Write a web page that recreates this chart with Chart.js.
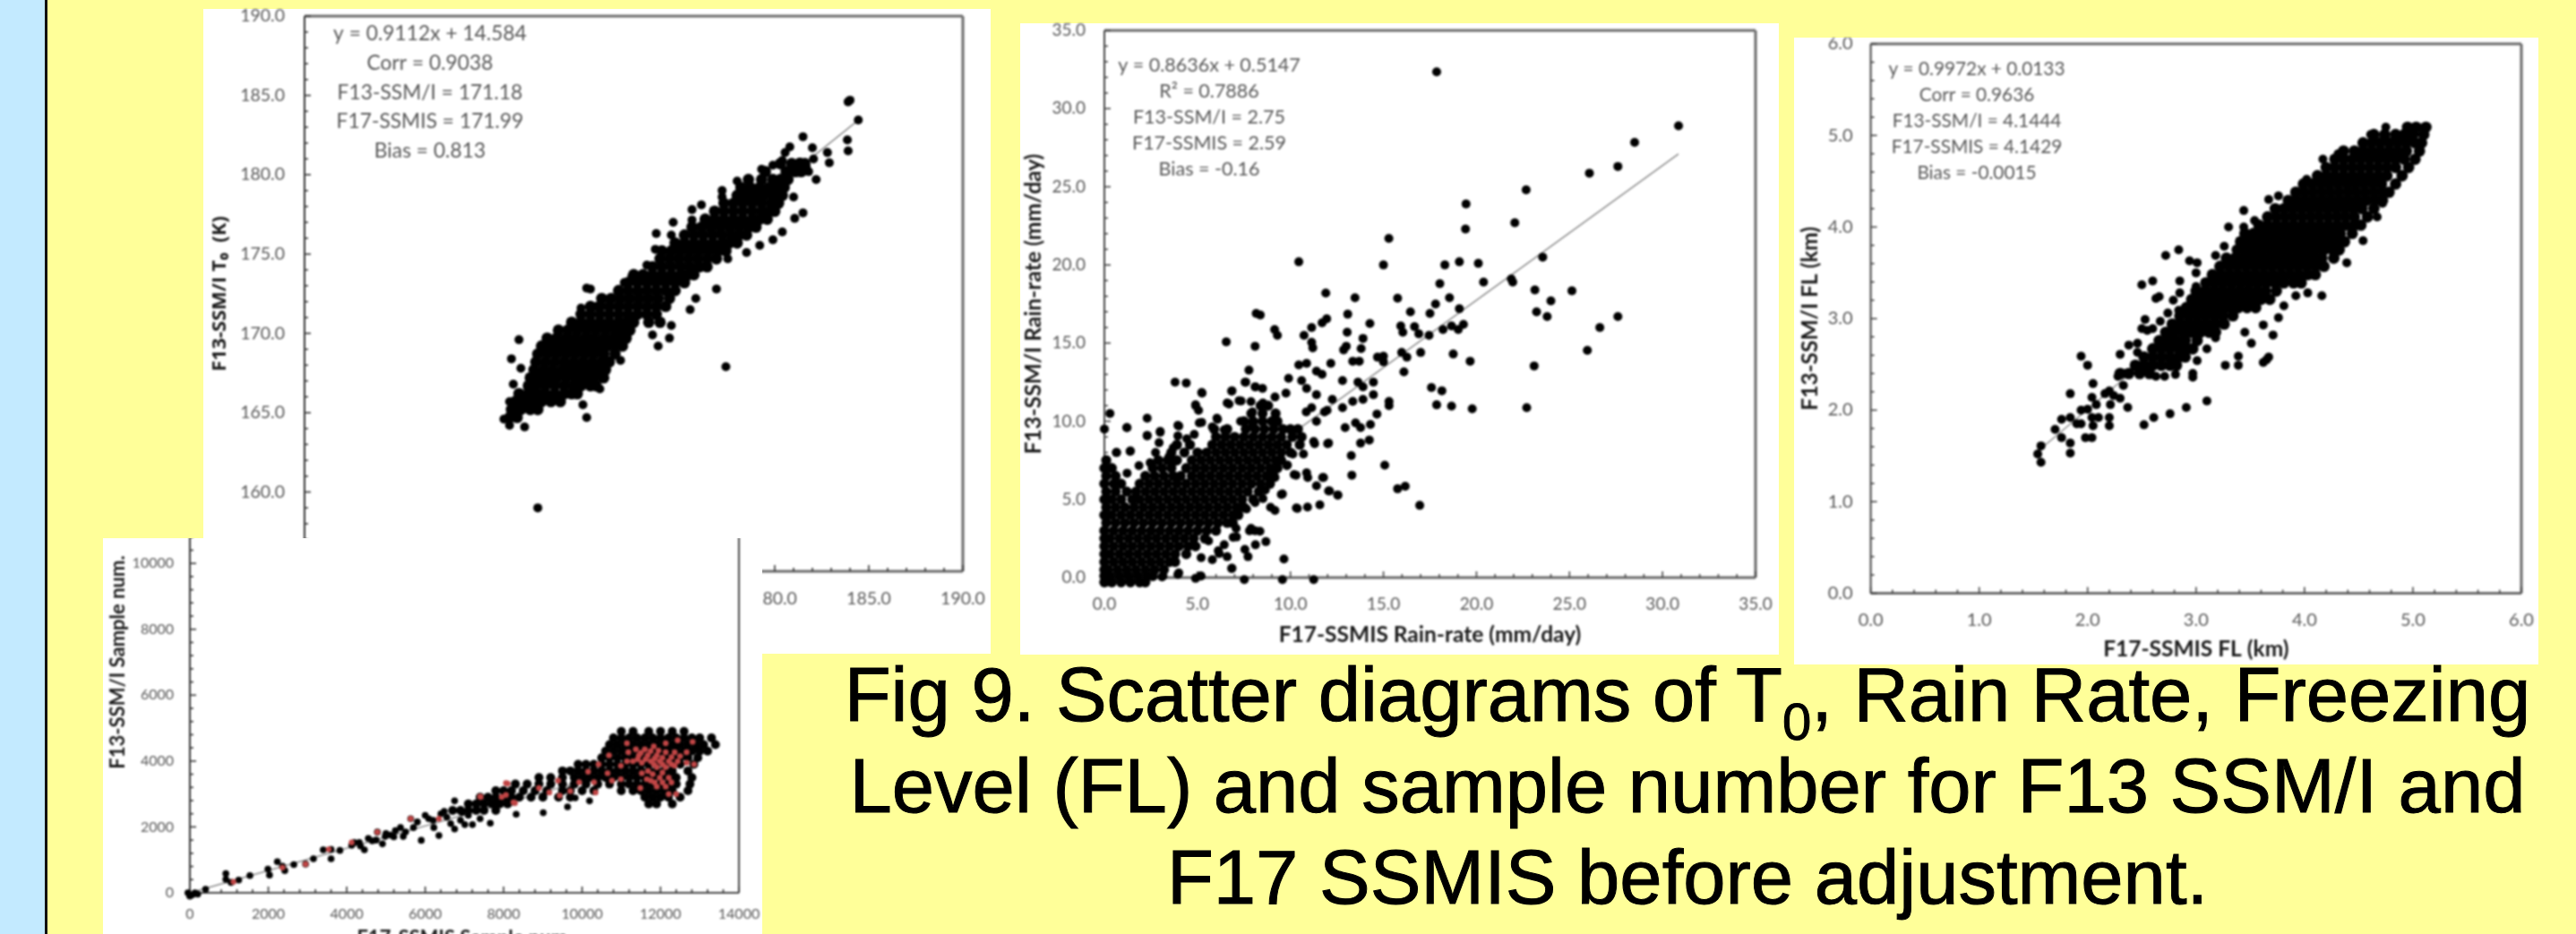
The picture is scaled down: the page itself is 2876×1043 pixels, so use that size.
<!DOCTYPE html>
<html><head><meta charset="utf-8">
<script src="https://cdn.jsdelivr.net/npm/chart.js@4"></script>
<style>
html,body{margin:0;padding:0;width:2876px;height:1043px;overflow:hidden;background:#FFFF99}
#blue{position:absolute;left:0;top:0;width:50px;height:1043px;background:#C3EAFF}
#rule{position:absolute;left:50px;top:0;width:3px;height:1043px;background:#111}
.panel{position:absolute;background:#fff}
canvas{position:absolute;filter:blur(1.1px)}
.cap{position:absolute;left:1884px;transform:translateX(-50%);white-space:nowrap;font:85px "Liberation Sans",Arial,sans-serif;color:#000;line-height:102px;height:102px;z-index:9;-webkit-text-stroke:1px #000;filter:blur(.5px)}
.cap sub{font-size:58px;line-height:0;vertical-align:-21px}
</style></head><body>
<div id="blue"></div><div id="rule"></div>
<div class="panel" style="left:227px;top:10px;width:879px;height:720px"></div>
<canvas id="c1" width="879" height="720" style="left:227px;top:10px;z-index:1"></canvas>
<div class="panel" style="left:1139px;top:26px;width:847px;height:705px;z-index:1"></div>
<canvas id="c2" width="847" height="705" style="left:1139px;top:26px;z-index:1"></canvas>
<div class="panel" style="left:2003px;top:42px;width:831px;height:700px;z-index:1"></div>
<canvas id="c3" width="831" height="700" style="left:2003px;top:42px;z-index:1"></canvas>
<div class="panel" style="left:115px;top:601px;width:736px;height:442px;z-index:2"></div>
<canvas id="c4" width="736" height="610" style="left:115px;top:460px;z-index:2;clip-path:inset(141px 0 0 0)"></canvas>
<div class="cap" style="top:725px">Fig 9. Scatter diagrams of T<sub>0</sub>, Rain Rate, Freezing</div>
<div class="cap" style="top:827px">Level (FL) and sample number for F13 SSM/I and</div>
<div class="cap" style="top:929px">F17 SSMIS before adjustment.</div>
<script>
// ---------- T0 panel ----------
const t0Notes=["y = 0.9112x + 14.584","Corr = 0.9038","F13-SSM/I = 171.18","F17-SSMIS = 171.99","Bias = 0.813"];
const t0Trend=[[165.7,165.6],[184.4,183.4]];
// each row: y, then the x values read along that row of the solid cloud
const t0Rows=[
[164.7,165.9,166.3],
[165.2,166.0,166.5,167.0,167.4],
[165.7,166.2,166.7,167.1,167.6,168.1,168.6],
[166.2,166.4,166.9,167.4,167.8,168.3,168.8,169.2,169.5],
[166.7,166.9,167.3,167.8,168.3,168.8,169.3,169.7,170.2,170.5],
[167.2,167.0,167.5,168.0,168.4,168.9,169.4,169.9,170.4,170.9],
[167.7,167.2,167.7,168.2,168.7,169.1,169.6,170.1,170.6,171.0],
[168.2,167.3,167.8,168.3,168.8,169.3,169.8,170.3,170.8,171.2],
[168.7,167.4,167.9,168.4,168.9,169.4,169.9,170.4,170.9,171.5],
[169.2,167.6,168.1,168.6,169.1,169.6,170.1,170.6,171.1,171.5,171.9],
[169.7,167.9,168.4,168.9,169.4,169.9,170.4,170.9,171.4,171.8,172.1],
[170.2,168.5,169.0,169.5,170.0,170.5,171.0,171.5,171.9,172.3],
[170.7,169.2,169.7,170.2,170.7,171.2,171.7,172.1,172.5,173.3,173.9],
[171.2,169.7,170.2,170.7,171.2,171.7,172.2,172.7,173.2,173.7],
[171.7,170.2,170.7,171.2,171.7,172.2,172.7,173.2,173.7,174.2],
[172.2,170.8,171.3,171.8,172.3,172.8,173.3,173.8,174.4],
[172.7,171.7,172.2,172.7,173.2,173.7,174.2,174.7],
[173.2,172.2,172.7,173.2,173.7,174.2,174.7,175.2],
[173.7,172.5,173.0,173.5,174.0,174.5,175.0,175.4,175.7],
[174.2,173.5,174.0,174.5,175.0,175.5,176.0,176.4],
[174.7,173.9,174.4,174.9,175.4,175.9,176.4,176.9],
[175.2,174.0,174.5,175.0,175.5,176.0,176.5,177.0,177.4],
[175.7,174.7,175.2,175.7,176.2,176.7,177.2,177.6,178.0],
[176.2,175.2,175.7,176.2,176.7,177.2,177.7,178.1,178.5],
[176.7,175.6,176.1,176.6,177.1,177.6,178.1,178.6,179.0],
[177.2,176.3,176.8,177.3,177.8,178.3,178.8,179.2,179.6],
[177.7,176.8,177.3,177.8,178.3,178.8,179.3,179.7,180.0],
[178.2,177.3,177.8,178.3,178.8,179.3,179.8,180.2],
[178.7,178.0,178.5,179.0,179.4,179.9,180.4],
[179.2,178.2,178.7,179.2,179.7,180.1,180.5],
[179.7,178.6,179.3,179.9,180.3,180.7],
[180.2,179.5,180.6,181.1,181.4],
[180.7,180.3,180.9,181.3,181.6]];
const t0Loose=[[184.44,183.45],[183.86,182.2],[183.9,181.5],[182.8,181.4],[182.9,180.76],[182.06,181.0],[182,181.7],[181.5,182.4],[182.2,179.7],[180.8,181.76],[180.55,181.4],[180.4,180.9],[181.5,177.6],[181.06,177.25],[180.4,176.4],[179.9,175.9],[179.2,175.55],[178.5,175.1],[177.5,174.7],[176.9,172.8],[175.8,172.2],[175.5,171.5],[174.4,169.7],[173.8,169.2],[173.5,169.9],[174.5,170.5],[177.4,167.9],[170.7,166.5],[169.8,165.5],[170,164.7],[171.8,168.3],[166.4,169.6],[166,168.4],[166.5,167.8],[166.1,166.8],[165.9,165.7],[165.6,164.6],[165.9,164.2],[166.7,164.1],[170.2,172.8],[170.0,172.85],[170.5,171.7],[169.7,171.6],[173.7,176.3],[174.6,177],[174.5,176.2],[175.6,177.8],[176.1,178.1],[175.6,177.15],[173.65,175.3],[173.2,174.3],[172.4,173.6],[172,173.2],[177.2,179],[177.2,178.6],[178,179.6],[178.65,179.7],[179.3,180.35],[179.9,180.6],[181,178.6],[181.35,180.8],[181.67,180.5],[181.8,180.2],[183.9,184.6],[184,184.7],[167.4,159.0]];

// ---------- Rain-rate panel ----------
const rainNotes=["y = 0.8636x + 0.5147","R² = 0.7886","F13-SSM/I = 2.75","F17-SSMIS = 2.59","Bias = -0.16"];
const rainTrend=[[0,0.51],[30.86,27.1]];
const rainRows=[
[-0.3,0,0.4,0.9,1.4,1.9,2.2],
[0.1,0,0.3,0.8,1.3,1.8,2.3,2.6],
[0.5,0,0.2,0.7,1.2,1.7,2.2,2.7,3.2],
[1,0,0.5,1,1.5,2,2.5,3,3.5,3.8],
[1.5,0,0.3,0.8,1.3,1.8,2.3,2.8,3.3,3.8,4.4],
[2,0,0.5,1,1.5,2,2.5,3,3.5,4,4.5,4.9],
[2.5,0,0.3,0.8,1.3,1.8,2.3,2.8,3.3,3.8,4.3,4.8,5.4],
[3,0,0.5,1,1.5,2,2.5,3,3.5,4,4.5,5,5.5,6],
[3.5,0.1,0.6,1.1,1.6,2.1,2.6,3.1,3.6,4.1,4.6,5.1,5.6,6.1,6.6,6.9],
[4,0,0.4,0.9,1.4,1.9,2.4,2.9,3.4,3.9,4.4,4.9,5.4,5.9,6.4,6.9,7.2],
[4.5,0.1,0.6,1.1,1.6,2.1,2.6,3.1,3.6,4.1,4.6,5.1,5.6,6.1,6.6,7.1,7.5],
[5,0,0.4,0.9,1.5,1.9,2.4,2.9,3.4,3.9,4.4,4.9,5.4,5.9,6.4,6.9,7.4,8],
[5.5,0.1,0.6,1.2,1.7,2.2,2.7,3.2,3.7,4.2,4.7,5.2,5.7,6.2,6.7,7.2,7.7,8.3],
[6,0,0.5,0.9,1.9,2.4,2.9,3.4,3.9,4.4,4.9,5.4,5.9,6.4,6.9,7.4,7.9,8.4,8.9],
[6.5,0.1,0.6,2.2,2.7,3.2,3.7,4.1,4.7,5.2,5.7,6.2,6.7,7.2,7.7,8.2,8.7,9.1],
[7,0,0.4,2.6,3.1,3.6,4.4,4.9,5.4,5.9,6.4,6.9,7.4,7.9,8.4,8.9,9.3],
[7.5,0.1,2.9,3.4,3.9,4.7,5.2,5.7,6.2,6.7,7.2,7.7,8.2,8.7,9.2,9.5],
[8,3.6,4.3,5.0,5.5,6.0,6.5,7.0,7.5,8.0,8.5,9.0,9.5,10],
[8.5,3.9,4.6,5.8,6.3,6.8,7.3,7.8,8.3,8.8,9.3,9.8,10.5],
[9,6.0,6.5,7.0,7.5,8.0,8.5,9.0,9.5,10.1,10.6],
[9.5,5.9,6.6,7.6,8.1,8.6,9.1,9.6,10.0,10.4],
[10,7.5,8.0,8.5,9.0,9.3],
[10.5,7.9,8.5,9.2],
[11,8.4,8.8]];
const rainLoose=[[17.86,32.35],[30.86,28.9],[28.5,27.84],[27.6,26.3],[26.07,25.87],[22.67,24.8],[19.44,23.9],[19.41,22.3],[22.06,22.7],[15.29,21.7],[10.45,20.2],[15,20],[18.3,20],[19.08,20.2],[20.1,20.1],[23.56,20.5],[20.38,18.9],[18.03,18.8],[21.87,19.1],[21.95,18.9],[23.14,18.4],[25.13,18.35],[11.9,18.2],[13.47,17.9],[15.76,17.87],[18.55,17.9],[24,17.7],[17.8,17.5],[19.08,17.2],[16.45,17],[17.5,16.9],[23.23,17],[23.8,16.7],[27.6,16.7],[8.16,16.9],[8.38,16.8],[13.08,16.85],[9.15,15.87],[9.3,15.5],[11.95,16.55],[11.7,16.3],[14.27,16.25],[11.14,16],[10.73,15.5],[11.14,15.05],[11.2,14.7],[13.9,15.3],[13.05,15.7],[6.55,15.08],[8.1,14.8],[13,14.8],[12.86,14.57],[13.8,14.65],[13.35,13.84],[13.7,13.84],[14.68,14.1],[15,14.16],[15,13.8],[15.93,16.1],[16.04,15.7],[16.67,16.05],[16.9,15.6],[17.45,15.5],[18.2,15.87],[18.66,16.1],[19.02,15.87],[19.3,16.2],[18.75,14.3],[19.66,13.84],[15.98,14.4],[16.26,14.1],[16.1,13.16],[17,14.4],[23.1,13.54],[25.96,14.54],[26.63,16],[17.58,12.16],[18.14,11.95],[17.86,11.05],[18.66,10.97],[19.77,10.8],[22.7,10.87],[15.3,11.27],[15.3,11],[15.07,7.19],[15.76,5.68],[16.17,5.84],[16.95,4.62],[12.55,5.27],[12.1,5.54],[11.78,6.4],[11.4,5.87],[10.37,4.43],[10.92,4.51],[11.58,4.65],[9.51,5.32],[9.65,1.19],[9.57,-0.13],[7.52,-0.13],[11.25,-0.13],[4.9,-0.05],[5.2,0.1],[8.68,2.3],[8.1,3],[8.65,5.6],[3.8,12.5],[4.4,12.45],[5.25,11.8],[4.9,11.05],[5.06,10.7],[2.3,10.2],[0.3,10.5],[0,9.5],[1.2,9.6],[4,9.7],[2.3,9.1],[3,9.3],[5.1,9.9],[6.05,10.2],[0.64,8],[1.4,8.1],[6.86,11.95],[7.77,13.27],[7.6,12.5],[6.7,11.1],[7.35,11.3],[8.1,12.2],[8.5,12.1],[9.9,12.75],[10.6,12.6],[10.45,13.6],[10.87,13.7],[11.4,13.2],[11.7,13],[12.17,13.7],[12.8,12.6],[13.63,12.5],[13.9,12.2],[14.46,12.5],[9.76,11.8],[10.87,12.1],[11.4,11.7],[12.25,11.4],[13.35,11.27],[13.9,11.4],[14.46,11.7],[11.14,10.87],[11.83,10.6],[12.8,10.87],[13.5,9.9],[13.77,9.6],[14.3,9.8],[14.65,10.46],[12.94,9.6],[13.77,8.6],[14.24,8.8],[13.27,7.8],[13.3,6.55],[12,8.57],[11.3,8.57],[9.84,7.2],[10.3,6.55],[10.87,6.7],[8.1,4.8],[8.93,4.5],[7.1,2.6],[7.8,3],[6.44,2.1],[6.17,1.54],[7.55,1.8],[6.86,0.6],[4,0.3],[3.1,0.05],[5.2,1.27],[5.6,2.35],
[0.66,8],[1.38,8.08],[1.22,9.6],[2.3,9.07],[3,9.35],[2.94,8.63],[2.75,8],[3.95,9.74],[2.46,7.35],[1.86,7.16],[1.22,6.68],[3.7,8.3],[3.95,9.07],[4.43,8.88],[4.83,9.16],[3.47,7.73],[3.8,7.45],[5.23,9.93],[6.08,10.12],[5.8,9.64],[6.44,9.45],[7.32,10],[7.96,9.83],[4.91,10.98],[5.23,11.84],[6.6,11.17],[7.24,11.32],[7.88,11.26],[6.84,11.93],[7.56,12.5],[8.12,12.2],[8.52,11.17],[7.96,10.6],[9.17,11.55],[9.17,6.4],[9.57,5.35],[8.52,5.06],[9.17,4.3],[7.64,4.39],[7.08,3.15],[7.88,3.15],[8.36,2.96],[8.12,2.1],[7.72,1.34],[6.92,2.58],[6.12,1.72],[5.8,1.15],[6.84,0.58],[5.15,0.1],[3.95,0.2],[3.15,0.1],[6.6,1.34],[9.81,7.16],[10.2,6.59],[10.93,6.4],[11.73,6.4],[12.05,5.54],[12.54,5.29],[10.32,4.45],[10.85,10.6],[11.4,10],[11.97,10.7],[11.25,8.7],[12.05,8.6],[10.7,7.9],[10.13,7.9]];

// ---------- Freezing-level panel ----------
const flNotes=["y = 0.9972x + 0.0133","Corr = 0.9636","F13-SSM/I = 4.1444","F17-SSMIS = 4.1429","Bias = -0.0015"];
const flTrend=[[1.55,1.56],[5.1,5.1]];
const flRows=[
[2.40,2.3,2.38,2.48,2.57],
[2.49,2.44,2.52,2.6,2.68,2.76,2.82],
[2.58,2.52,2.6,2.68,2.76,2.84,2.9],
[2.67,2.6,2.68,2.76,2.84,2.92,2.97],
[2.76,2.66,2.74,2.82,2.9,3.01],
[2.85,2.72,2.8,2.88,2.96,3.04,3.12,3.18],
[2.94,2.78,2.86,2.94,3.02,3.1,3.18,3.26],
[3.03,2.85,2.93,3.01,3.09,3.17,3.25,3.34],
[3.12,2.91,2.99,3.07,3.15,3.23,3.31,3.39,3.47,3.55],
[3.21,2.96,3.04,3.12,3.2,3.28,3.36,3.44,3.52,3.6,3.68],
[3.30,3.0,3.08,3.16,3.24,3.32,3.4,3.48,3.56,3.64,3.74],
[3.39,3.09,3.17,3.25,3.33,3.41,3.49,3.57,3.65,3.73,3.81,3.9,3.97],
[3.48,3.15,3.23,3.31,3.39,3.47,3.55,3.63,3.71,3.79,3.87,3.95,4.03,4.1],
[3.57,3.22,3.3,3.38,3.46,3.54,3.62,3.7,3.78,3.86,3.94,4.02,4.1,4.18],
[3.66,3.28,3.36,3.44,3.52,3.6,3.68,3.76,3.84,3.92,4.0,4.08,4.16,4.27],
[3.75,3.38,3.46,3.54,3.62,3.7,3.78,3.86,3.94,4.02,4.1,4.18,4.26,4.32],
[3.84,3.41,3.49,3.57,3.65,3.73,3.81,3.89,3.97,4.05,4.13,4.21,4.29,4.37],
[3.93,3.45,3.53,3.61,3.69,3.77,3.85,3.93,4.01,4.09,4.17,4.25,4.33,4.44],
[4.02,3.58,3.66,3.74,3.82,3.9,3.98,4.06,4.14,4.22,4.3,4.38,4.46,4.52],
[4.11,3.66,3.74,3.82,3.9,3.98,4.06,4.14,4.22,4.3,4.38,4.46,4.58],
[4.20,3.73,3.81,3.89,3.97,4.05,4.13,4.21,4.29,4.37,4.45,4.53,4.64],
[4.29,3.85,3.93,4.01,4.09,4.17,4.25,4.33,4.41,4.49,4.57,4.65,4.72],
[4.38,3.92,4.0,4.08,4.16,4.24,4.32,4.4,4.48,4.56,4.64,4.72,4.78],
[4.47,3.99,4.07,4.15,4.23,4.31,4.39,4.47,4.55,4.63,4.71,4.84],
[4.56,4.12,4.2,4.28,4.36,4.44,4.52,4.6,4.68,4.76,4.9],
[4.65,4.2,4.28,4.36,4.44,4.52,4.6,4.68,4.76,4.84,4.96],
[4.74,4.28,4.36,4.44,4.52,4.6,4.68,4.76,4.84,4.92,5.02],
[4.83,4.36,4.46,4.54,4.62,4.7,4.78,4.86,4.94,5.06],
[4.92,4.54,4.62,4.7,4.78,4.86,4.94,5.02,5.08],
[5.01,4.64,4.74,4.84,4.92,5.0,5.1],
[5.09,4.95,5.03,5.12]];
const flLoose=[[1.57,1.61],[1.54,1.52],[1.57,1.43],[1.84,1.53],[1.76,1.9],[1.7,1.79],[1.76,1.7],[1.84,1.64],[1.84,1.92],[1.9,1.85],[1.94,2],[1.98,1.7],[2.04,1.7],[1.94,1.85],[2.04,1.92],[2.1,1.92],[2.05,1.83],[2.08,2.06],[2,2.01],[2.2,1.92],[2.2,1.83],[1.84,2.18],[2.04,2.14],[2.05,2.29],[1.94,2.59],[2,2.49],[2.2,2.21],[2.16,2.18],[2.24,2.16],[2.21,2.06],[2.3,2.13],[2.37,2.03],[2.33,2.27],[2.28,2.37],[2.35,2.4],[2.52,1.84],[2.61,1.92],[2.76,1.96],[2.91,2.03],[3.1,2.1],[3.27,2.49],[3.39,2.49],[3.39,2.59],[3.62,2.52],[3.67,2.58],[3.65,2.55],[2.97,2.36],[2.97,2.4],[2.81,2.39],[2.71,2.37],[2.63,2.37],[3.01,2.54],[2.3,2.61],[2.46,2.63],[2.38,2.71],[2.46,2.73],[2.5,2.89],[2.55,2.87],[2.6,2.89],[2.53,2.99],[2.67,2.97],[2.5,3.37],[2.6,3.41],[2.72,3.69],[2.84,3.75],[2.63,3.22],[2.66,3.24],[2.79,3.2],[2.85,3.28],[2.85,3.41],[3,3.5],[3,3.35],[2.94,3.63],[3.01,3.61],[2.74,3.06],[2.84,3.09],[3.3,4],[3.44,4.18],[3.44,4],[3.54,4.07],[3.67,4.3],[3.76,4.34],[3.18,3.69],[3.26,3.79],[3.51,2.73],[3.62,2.93],[3.71,2.82],[3.76,3.01],[3.81,3.14],[3.45,2.85],[3.18,2.79],[3.1,2.67],[3.92,3.25],[4.03,3.28],[4.16,3.25],[4.39,3.61],[4.54,3.85],[4.67,4.11],[4.72,4.26],[4.31,4.8],[4.17,4.74],[4.02,4.52],[4.61,5.01],[4.75,5.09]];

// ---------- Sample-number panel ----------
const numTrend=[[0,0],[13000,4400]];
const numRows=[
[4900,11000,11300,11700,12000,12300,12600],
[4700,10800,11000,11200,11400,11600,11800,12000,12200,12400,12600,12800,13000,13300],
[4500,10700,10900,11100,11300,11500,11700,11900,12100,12300,12500,12700,12900,13100,13400],
[4300,10600,10800,11000,11200,11400,11600,11800,12000,12200,12400,12600,12800,13000,13200],
[4100,10500,10700,10900,11100,11300,11500,11700,11900,12100,12300,12500,12700,12950],
[3900,9900,10100,10300,10500,10700,10900,11100,11300,11500,11700,11900,12100,12300,12500,12850],
[3700,9500,9700,9900,10100,10300,10500,10700,10900,11100,11300,11500,11700,11900,12100,12300,12700],
[3500,8900,9200,9500,9800,10000,10200,10400,10600,10800,11000,11200,11400,11600,11800,12000,12200,12400,12800],
[3300,8300,8600,8900,9200,9500,9800,10100,10400,10700,11000,11200,11400,11600,11800,12000,12200,12400,12750],
[3100,7800,8000,8200,8500,8800,9100,9500,9700,10000,10300,11000,11300,11500,11700,11900,12100,12300,12700],
[2900,7400,7600,7800,8000,8200,8400,8700,9000,9400,9700,11600,11800,12000,12200,12500],
[2700,7100,7300,7500,7700,7900,8100,11700,11900,12300],
[2500,6700,6900,7100,7300,7500,7800]];
const numLoose=[[0,-90],[-50,0],[130,0],[0,-100],[200,-40],[60,-60],[400,108],[917,585],[917,405],[1050,315],[1245,387],[1530,522],[1990,720],[2030,540],[2230,945],[2360,810],[2420,675],[2650,855],[2950,873],[3150,1035],[3400,1305],[3600,1320],[3600,1035],[3825,1287],[4125,1440],[4190,1530],[4450,1305],[4320,1530],[4650,1575],[4910,1485],[4980,1710],[4780,1845],[5240,1890],[5440,1710],[5110,1755],[5370,1980],[5900,1593],[5630,2250],[5700,1980],[6090,2250],[6220,1980],[6350,1737],[6485,2475],[6750,1935],[7010,2070],[6750,2790],[7660,2115],[7205,2070],[8320,2385],[9010,2430],[9630,2610],[10190,2790],[9825,2880],[6550,2295],[6940,2430],[7335,2520],[7730,2745],[8060,2880],[8250,2745],
[4350,1420],[4550,1650],[4750,1600],[5000,1800],[5200,1700],[5500,1850],[5800,2150],[6000,2350],[6200,2200],[6400,2400],[6650,2100],[6900,2200],[7100,2350],[7400,2250]];
const numRed=[[1110,333],[2950,873],[2360,765],[3540,1323],[4125,1530],[4780,1845],[5630,2250],[6350,2250],[7400,2925],[8060,3330],[8060,2970],[8250,2745],[7415,2907],[8100,3315],[7950,2907],[8290,2725],[8900,3180],[9165,3043],[9390,3405],[9700,3088],[9430,2952],[9926,3360],[10345,3043],[10306,3360],[10154,3677],[10420,3903],[10687,4175],[10650,3632],[10990,3858],[10763,3405],[10990,3450],[11144,4538],[11180,4266],[11144,3994],[11372,4356],[11600,4356],[11828,4447],[12133,4538],[12437,4628],[12818,4583],[11448,4175],[11676,4175],[11905,4175],[12133,4266],[12361,4266],[12666,4266],[11296,3994],[11524,3949],[11752,3994],[11981,3994],[12209,3994],[12437,3994],[12666,3949],[12856,3903],[11524,3632],[11905,3813],[12133,3813],[12361,3858],[11752,3405],[11981,3496],[12209,3496],[11905,3224],[12133,3224],[11486,3179],[12209,2997],[12399,2997],
[11500,4250],[11750,4300],[11950,4320],[12050,4100],[11850,4080],[11620,4060],[11420,4060],[12280,4120],[12500,4150],[11830,3900],[12050,3900],[12280,3900],[11680,3700],[11800,3600],[12050,3650],[11650,3450],[11850,3350],[12050,3350],[12280,3350]];
const numNotes=[];

const tickRange={t0:[155,190,1,5],rain:[0,35,1,5],fl:[0,6,0.2,1],num:[0,14000,400,2000]};
const fromRows=r=>r.flatMap(([y,...xs])=>xs.map(x=>({x,y})));
const fromPairs=p=>p.map(([x,y])=>({x,y}));

const framePlugin={id:'frame',beforeDatasetsDraw(c,a,o){
  const g=c.ctx,{left:l,right:r,top:t,bottom:b}=c.chartArea;
  g.save();
  const seg=(x1,y1,x2,y2,col,w)=>{g.strokeStyle=col;g.lineWidth=w;g.beginPath();g.moveTo(x1,y1);g.lineTo(x2,y2);g.stroke();};
  seg(l,t,r,t,o.edge,o.w);seg(r,t,r,b,o.edge,o.w);seg(l,b,r,b,o.edge,o.w);seg(l,t,l,b,o.axis,2);
  c.scales.x.ticks.forEach(k=>{const p=c.scales.x.getPixelForValue(k.value),m=k.label!=='';seg(p,b,p,b-(m?7:4),o.axis,1.6);});
  c.scales.y.ticks.forEach(k=>{const p=c.scales.y.getPixelForValue(k.value),m=k.label!=='';seg(l,p,l+(m?7:4),p,o.axis,1.6);});
  g.restore();
},afterDraw(c,a,o){
  const g=c.ctx;g.save();g.font=o.font;g.fillStyle='#585858';g.textAlign='center';g.textBaseline='middle';
  (o.notes||[]).forEach((s,i)=>g.fillText(s,o.cx,o.y0+i*o.dy));g.restore();
}};
const noPad=s=>{s.paddingTop=s.paddingBottom=s.paddingLeft=s.paddingRight=0;};

function make(id,cfg){
  const [min,max,step,major]=cfg.range;
  const fmt=v=>{const q=v/major;return Math.abs(q-Math.round(q))<1e-6?(cfg.dec?v.toFixed(cfg.dec):String(v)):'';};
  const axisFont={family:'Lato',size:cfg.tickSize};
  const titleFont={family:cfg.titleFamily||'Lato',size:cfg.titleSize,weight:'bold'};
  const ds=[];
  if(cfg.red)ds.push({data:fromPairs(cfg.red),backgroundColor:'#C04545',pointRadius:cfg.r-0.6,borderWidth:0,clip:false});
  ds.push({data:fromPairs(cfg.loose),backgroundColor:'#000',pointRadius:cfg.r,borderWidth:0,clip:false});
  ds.push({data:fromRows(cfg.rows),backgroundColor:'#000',pointRadius:cfg.rowR,borderWidth:0,clip:false});
  ds.push({data:fromPairs(cfg.trend),showLine:true,pointRadius:0,borderColor:'#8a8a8a',borderWidth:1.5,backgroundColor:'transparent',clip:false});
  return new Chart(document.getElementById(id),{type:'scatter',data:{datasets:ds},options:{
    responsive:false,animation:false,devicePixelRatio:1,
    layout:{padding:{top:cfg.box.top,right:cfg.box.right,left:0,bottom:0}},
    plugins:{legend:{display:false},tooltip:{enabled:false},
      frame:{edge:cfg.edge,axis:cfg.axis,w:cfg.edgeW,notes:cfg.notes,cx:cfg.cx,y0:cfg.y0,dy:cfg.dy,font:cfg.noteFont}},
    scales:{
      x:{type:'linear',min,max,afterFit:s=>{s.height=cfg.box.bottom;noPad(s);},grid:{display:false,drawTicks:false},border:{display:false},
        ticks:{stepSize:step,autoSkip:false,maxRotation:0,padding:cfg.xPad,color:'#585858',font:axisFont,callback:fmt},
        title:{display:true,text:cfg.xTitle,color:'#1a1a1a',font:titleFont,padding:{top:0,bottom:cfg.xTitlePad}}},
      y:{type:'linear',min,max:max,afterFit:s=>{s.width=cfg.box.left;noPad(s);},grid:{display:false,drawTicks:false},border:{display:false},
        ticks:{stepSize:step,autoSkip:false,padding:cfg.yPad,color:'#585858',font:axisFont,callback:fmt},
        title:{display:true,text:cfg.yTitle,color:'#1a1a1a',font:titleFont,padding:{top:cfg.yTitlePad,bottom:0}}}
    }},plugins:[framePlugin]});
}
make('c1',{range:tickRange.t0,dec:1,rows:t0Rows,loose:t0Loose,trend:t0Trend,notes:t0Notes,r:5,rowR:6.4,
  box:{left:113,top:8,right:31,bottom:92},edge:'#6a6a6a',axis:'#333',edgeW:3,cx:253,y0:28,dy:32.7,noteFont:'22.8px Lato',
  tickSize:19.5,titleSize:22,titleFamily:'"Open Sans","DejaVu Sans"',xPad:19.5,yPad:22,xTitle:'F17-SSMIS T₀ (K)',yTitle:'F13-SSM/I T₀  (K)',xTitlePad:10,yTitlePad:5.8});
make('c2',{range:tickRange.rain,dec:1,rows:rainRows,loose:rainLoose,trend:rainTrend,notes:rainNotes,r:5,rowR:5.7,
  box:{left:94,top:8,right:26,bottom:86},edge:'#6a6a6a',axis:'#444',edgeW:3,cx:211,y0:47,dy:29,noteFont:'21.5px Lato',
  tickSize:19,titleSize:24.5,xPad:18.6,yPad:21,xTitle:'F17-SSMIS Rain-rate (mm/day)',yTitle:'F13-SSM/I Rain-rate (mm/day)',xTitlePad:7.3,yTitlePad:0.3});
make('c3',{range:tickRange.fl,dec:1,rows:flRows,loose:flLoose,trend:flTrend,notes:flNotes,r:5,rowR:6.4,
  box:{left:85.6,top:7,right:19,bottom:79.5},edge:'#6a6a6a',axis:'#444',edgeW:3,cx:204,y0:35,dy:29,noteFont:'20.8px Lato',
  tickSize:20,titleSize:24.5,xPad:18,yPad:20,xTitle:'F17-SSMIS FL (km)',yTitle:'F13-SSM/I FL (km)',xTitlePad:2.3,yTitlePad:3.3});
make('c4',{range:tickRange.num,dec:0,rows:numRows,loose:numLoose,red:numRed,trend:numTrend,notes:numNotes,r:3.8,rowR:5,
  box:{left:97,top:22,right:26,bottom:73},edge:'#444',axis:'#333',edgeW:2,cx:0,y0:0,dy:0,noteFont:'16px Lato',
  tickSize:16,titleSize:22,xPad:14.5,yPad:18,xTitle:'F17-SSMIS Sample num.',yTitle:'F13-SSM/I Sample num.',xTitlePad:9,yTitlePad:4});
</script></body></html>
